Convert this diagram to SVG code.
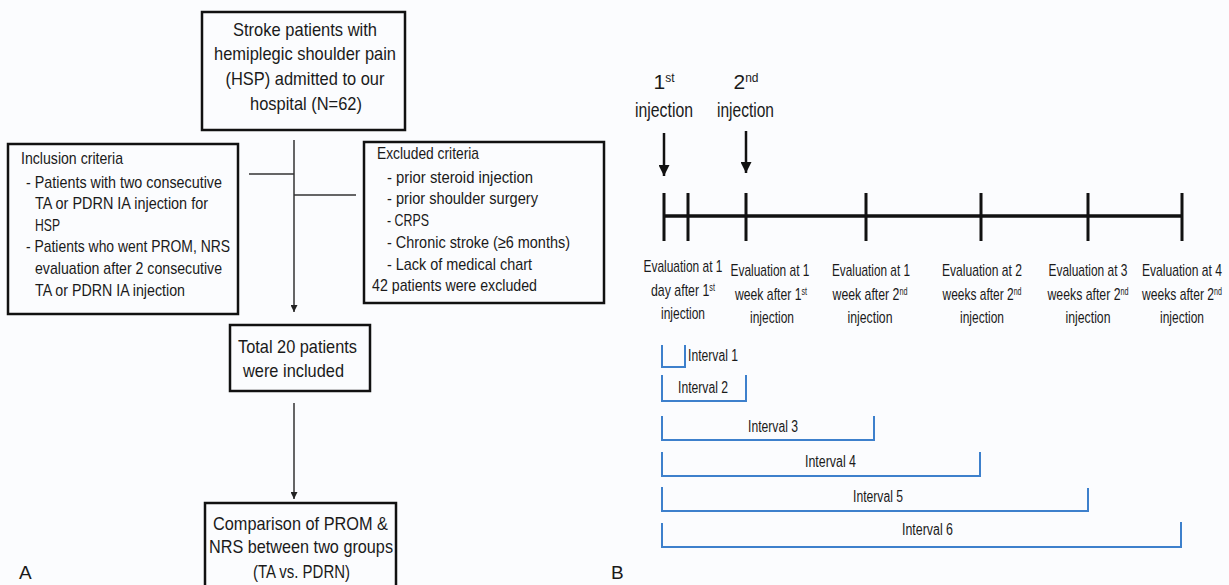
<svg xmlns="http://www.w3.org/2000/svg" width="1229" height="585" viewBox="0 0 1229 585">
<defs>
<style>
.t{font-family:"Liberation Sans",Arial,sans-serif;fill:#1a1a1a;}
.box{fill:none;stroke:#111;stroke-width:2.5;}
.con{fill:none;stroke:#333;stroke-width:1.5;}
.tl{fill:none;stroke:#111;stroke-width:3.5;}
.tick{fill:none;stroke:#111;stroke-width:3;}
.iv{fill:none;stroke:#3d80cc;stroke-width:2;}
.inj{fill:none;stroke:#111;stroke-width:2.5;}
</style>
<marker id="ah" viewBox="0 0 10 10" refX="10" refY="5" markerWidth="7" markerHeight="7" markerUnits="userSpaceOnUse" orient="auto">
<path d="M0,0 L10,5 L0,10 z" fill="#222"/>
</marker>
<marker id="ahb" viewBox="0 0 10 10" refX="10" refY="5" markerWidth="12" markerHeight="11" markerUnits="userSpaceOnUse" orient="auto">
<path d="M0,0 L10,5 L0,10 z" fill="#111"/>
</marker>
</defs>
<rect x="0" y="0" width="1229" height="585" fill="#fbfcfe"/>

<g id="connectors">
<line class="con" x1="294" y1="140" x2="294" y2="312" marker-end="url(#ah)"/>
<line class="con" x1="249" y1="174" x2="294" y2="174"/>
<line class="con" x1="294" y1="195" x2="356" y2="195"/>
<line class="con" x1="294" y1="403" x2="294" y2="499" marker-end="url(#ah)"/>
</g>

<g id="node-stroke-patients">
<rect class="box" x="202" y="12" width="203" height="118"/>
<text class="t" font-size="19" text-anchor="middle" x="305" y="36" textLength="144" lengthAdjust="spacingAndGlyphs">Stroke patients with</text>
<text class="t" font-size="19" text-anchor="middle" x="305" y="60" textLength="182" lengthAdjust="spacingAndGlyphs">hemiplegic shoulder pain</text>
<text class="t" font-size="19" text-anchor="middle" x="305" y="85" textLength="159" lengthAdjust="spacingAndGlyphs">(HSP) admitted to our</text>
<text class="t" font-size="19" text-anchor="middle" x="306" y="110" textLength="112" lengthAdjust="spacingAndGlyphs">hospital (N=62)</text>
</g>

<g id="node-inclusion">
<rect class="box" x="8" y="144" width="230" height="170"/>
<text class="t" font-size="17" x="21" y="164" textLength="102" lengthAdjust="spacingAndGlyphs">Inclusion criteria</text>
<text class="t" font-size="17" x="26" y="188" textLength="196" lengthAdjust="spacingAndGlyphs">- Patients with two consecutive</text>
<text class="t" font-size="17" x="35" y="209" textLength="173" lengthAdjust="spacingAndGlyphs">TA or PDRN IA injection for</text>
<text class="t" font-size="17" x="35" y="231" textLength="25" lengthAdjust="spacingAndGlyphs">HSP</text>
<text class="t" font-size="17" x="26" y="252" textLength="204" lengthAdjust="spacingAndGlyphs">- Patients who went PROM, NRS</text>
<text class="t" font-size="17" x="35" y="274" textLength="187" lengthAdjust="spacingAndGlyphs">evaluation after 2 consecutive</text>
<text class="t" font-size="17" x="35" y="296" textLength="150" lengthAdjust="spacingAndGlyphs">TA or PDRN IA injection</text>
</g>

<g id="node-exclusion">
<rect class="box" x="364" y="142" width="240" height="161"/>
<text class="t" font-size="17" x="377" y="159" textLength="102" lengthAdjust="spacingAndGlyphs">Excluded criteria</text>
<text class="t" font-size="17" x="387" y="183" textLength="146" lengthAdjust="spacingAndGlyphs">- prior steroid injection</text>
<text class="t" font-size="17" x="387" y="204" textLength="151" lengthAdjust="spacingAndGlyphs">- prior shoulder surgery</text>
<text class="t" font-size="17" x="387" y="226" textLength="42" lengthAdjust="spacingAndGlyphs">- CRPS</text>
<text class="t" font-size="17" x="387" y="248" textLength="183" lengthAdjust="spacingAndGlyphs">- Chronic stroke (≥6 months)</text>
<text class="t" font-size="17" x="387" y="270" textLength="145" lengthAdjust="spacingAndGlyphs">- Lack of medical chart</text>
<text class="t" font-size="17" x="372" y="291" textLength="165" lengthAdjust="spacingAndGlyphs">42 patients were excluded</text>
</g>

<g id="node-total">
<rect class="box" x="230" y="325" width="140" height="66"/>
<text class="t" font-size="19" x="238" y="353" textLength="119" lengthAdjust="spacingAndGlyphs">Total 20 patients</text>
<text class="t" font-size="19" x="243" y="377" textLength="101" lengthAdjust="spacingAndGlyphs">were included</text>
</g>

<g id="node-comparison">
<rect class="box" x="205" y="503" width="191" height="90"/>
<text class="t" font-size="19" x="213" y="530" textLength="175" lengthAdjust="spacingAndGlyphs">Comparison of PROM &amp;</text>
<text class="t" font-size="19" x="209" y="553" textLength="184" lengthAdjust="spacingAndGlyphs">NRS between two groups</text>
<text class="t" font-size="19" x="253" y="578" textLength="97" lengthAdjust="spacingAndGlyphs">(TA vs. PDRN)</text>
</g>

<g id="label-A"><text class="t" font-size="19" x="19" y="579">A</text></g>
<g id="label-B"><text class="t" font-size="19" x="611" y="579">B</text></g>

<g id="injections">
<text class="t" font-size="21" text-anchor="middle" x="664" y="89">1<tspan font-size="12" dy="-7">st</tspan></text>
<text class="t" font-size="21" x="635" y="117" textLength="58" lengthAdjust="spacingAndGlyphs">injection</text>
<text class="t" font-size="21" text-anchor="middle" x="746" y="89">2<tspan font-size="12" dy="-7">nd</tspan></text>
<text class="t" font-size="21" x="717" y="117" textLength="57" lengthAdjust="spacingAndGlyphs">injection</text>
<line class="inj" x1="664" y1="133" x2="664" y2="176" marker-end="url(#ahb)"/>
<line class="inj" x1="746" y1="131" x2="746" y2="173" marker-end="url(#ahb)"/>
</g>

<g id="timeline">
<line class="tl" x1="664" y1="216" x2="1182" y2="216"/>
<line class="tick" x1="664" y1="193" x2="664" y2="241"/>
<line class="tick" x1="688" y1="193" x2="688" y2="241"/>
<line class="tick" x1="746" y1="193" x2="746" y2="241"/>
<line class="tick" x1="866" y1="193" x2="866" y2="241"/>
<line class="tick" x1="981" y1="193" x2="981" y2="241"/>
<line class="tick" x1="1088" y1="193" x2="1088" y2="241"/>
<line class="tick" x1="1182" y1="193" x2="1182" y2="241"/>
</g>

<g id="eval-labels">
<text class="t" font-size="17" text-anchor="middle" x="683" y="272" textLength="79" lengthAdjust="spacingAndGlyphs">Evaluation at 1</text>
<text class="t" font-size="17" text-anchor="middle" x="683" y="296" textLength="64" lengthAdjust="spacingAndGlyphs">day after 1<tspan font-size="10" dy="-5">st</tspan></text>
<text class="t" font-size="17" text-anchor="middle" x="683" y="319" textLength="44" lengthAdjust="spacingAndGlyphs">injection</text>

<text class="t" font-size="17" text-anchor="middle" x="770" y="276" textLength="79" lengthAdjust="spacingAndGlyphs">Evaluation at 1</text>
<text class="t" font-size="17" text-anchor="middle" x="771" y="300" textLength="72" lengthAdjust="spacingAndGlyphs">week after 1<tspan font-size="10" dy="-5">st</tspan></text>
<text class="t" font-size="17" text-anchor="middle" x="772" y="323" textLength="44" lengthAdjust="spacingAndGlyphs">injection</text>

<text class="t" font-size="17" text-anchor="middle" x="871" y="276" textLength="78" lengthAdjust="spacingAndGlyphs">Evaluation at 1</text>
<text class="t" font-size="17" text-anchor="middle" x="870" y="300" textLength="75" lengthAdjust="spacingAndGlyphs">week after 2<tspan font-size="10" dy="-5">nd</tspan></text>
<text class="t" font-size="17" text-anchor="middle" x="870" y="323" textLength="45" lengthAdjust="spacingAndGlyphs">injection</text>

<text class="t" font-size="17" text-anchor="middle" x="982" y="276" textLength="80" lengthAdjust="spacingAndGlyphs">Evaluation at 2</text>
<text class="t" font-size="17" text-anchor="middle" x="982" y="300" textLength="79" lengthAdjust="spacingAndGlyphs">weeks after 2<tspan font-size="10" dy="-5">nd</tspan></text>
<text class="t" font-size="17" text-anchor="middle" x="982" y="323" textLength="44" lengthAdjust="spacingAndGlyphs">injection</text>

<text class="t" font-size="17" text-anchor="middle" x="1088" y="276" textLength="79" lengthAdjust="spacingAndGlyphs">Evaluation at 3</text>
<text class="t" font-size="17" text-anchor="middle" x="1088" y="300" textLength="81" lengthAdjust="spacingAndGlyphs">weeks after 2<tspan font-size="10" dy="-5">nd</tspan></text>
<text class="t" font-size="17" text-anchor="middle" x="1088" y="323" textLength="45" lengthAdjust="spacingAndGlyphs">injection</text>

<text class="t" font-size="17" text-anchor="end" x="1222" y="276" textLength="80" lengthAdjust="spacingAndGlyphs">Evaluation at 4</text>
<text class="t" font-size="17" text-anchor="end" x="1222" y="300" textLength="80" lengthAdjust="spacingAndGlyphs">weeks after 2<tspan font-size="10" dy="-5">nd</tspan></text>
<text class="t" font-size="17" text-anchor="end" x="1204" y="323" textLength="44" lengthAdjust="spacingAndGlyphs">injection</text>
</g>

<g id="intervals">
<path class="iv" d="M662,345 V367 H685 V345"/>
<text class="t" font-size="16" x="688" y="361" textLength="50" lengthAdjust="spacingAndGlyphs">Interval 1</text>
<path class="iv" d="M662,375 V401 H746 V375"/>
<text class="t" font-size="16" x="678" y="393" textLength="50" lengthAdjust="spacingAndGlyphs">Interval 2</text>
<path class="iv" d="M662,416 V440 H874 V416"/>
<text class="t" font-size="16" x="748" y="432" textLength="50" lengthAdjust="spacingAndGlyphs">Interval 3</text>
<path class="iv" d="M662,452 V476 H980 V452"/>
<text class="t" font-size="16" x="805" y="467" textLength="51" lengthAdjust="spacingAndGlyphs">Interval 4</text>
<path class="iv" d="M662,487 V511 H1088 V488"/>
<text class="t" font-size="16" x="853" y="502" textLength="50" lengthAdjust="spacingAndGlyphs">Interval 5</text>
<path class="iv" d="M662,523 V547 H1181 V522"/>
<text class="t" font-size="16" x="902" y="535" textLength="51" lengthAdjust="spacingAndGlyphs">Interval 6</text>
</g>
</svg>
